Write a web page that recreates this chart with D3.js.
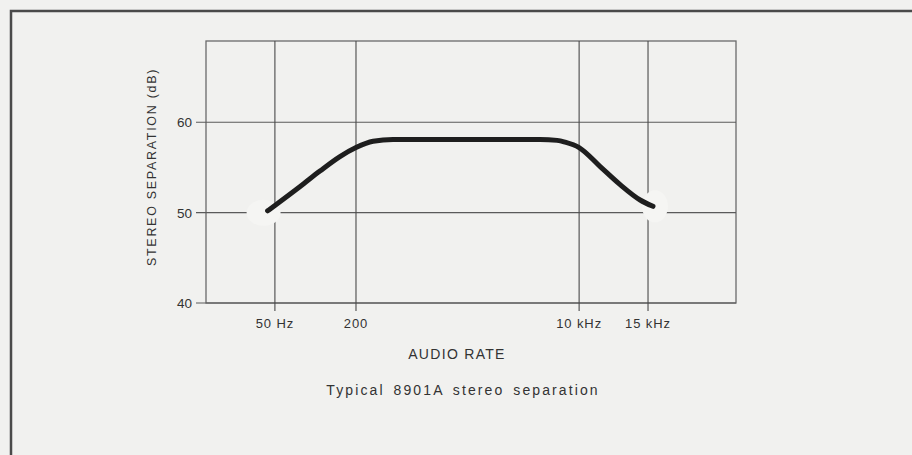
<!DOCTYPE html>
<html>
<head>
<meta charset="utf-8">
<script src="https://cdn.jsdelivr.net/npm/d3@7"></script>
<style>
  body { margin: 0; background: #f1f1ef; }
  svg { display: block; }
  text { font-family: "Liberation Sans", Arial, sans-serif; fill: #333; }
</style>
</head>
<body>
<div id="graph"></div>
<script>
// curve (Hz, dB)
var freq = [44, 50, 77, 108, 152, 200, 270, 383, 1040, 5050, 6800, 7820, 10000, 11320, 12730, 14320, 15600]
var sep  = [50.2, 50.8, 52.9, 54.6, 56.2, 57.2, 57.9, 58.1, 58.1, 58.1, 58.0, 57.8, 57.2, 55.1, 53.1, 51.4, 50.7]

// axis ticks
var xTicks = [50, 200, 10000, 15000]
var xTickLabels = ["50 Hz", "200", "10 kHz", "15 kHz"]
var yTicks = [40, 50, 60]

var W = 912, H = 455
var margin = {top: 41, right: 176, bottom: 152, left: 206},
  width = W - margin.left - margin.right,
  height = H - margin.top - margin.bottom;

var svg = d3.select("#graph")
.append("svg")
  .attr("width", W)
  .attr("height", H)

// page frame (top + left rule of the scanned page)
svg.append("path")
  .attr("d", "M912,11 H11 V455")
  .attr("fill", "none")
  .attr("stroke", "#4a4a4a")
  .attr("stroke-width", 2.5)

var g = svg.append("g")
  .attr("transform", "translate(" + margin.left + "," + margin.top + ")")

// the frequency axis on the original is not a true log axis, so piecewise
var x = d3.scaleLog()
  .domain([15, 50, 200, 10000, 15000, 30000])
  .range([0, .130, .283, .704, .834, 1].map(function(f){ return f * width }))

var y = d3.scaleLinear()
  .domain([40, 69])
  .range([height, 0])

// plot box
g.append("rect")
  .attr("width", width)
  .attr("height", height)
  .attr("fill", "none")
  .attr("stroke", "#6a6a6a")
  .attr("stroke-width", 1.3)

// horizontal grid + left ticks
g.selectAll(".hgrid")
.data(yTicks)
.enter()
.append("line")
  .attr("x1", -10)
  .attr("x2", width)
  .attr("y1", function(d){ return y(d) })
  .attr("y2", function(d){ return y(d) })
  .attr("stroke", "#5a5a5a")
  .attr("stroke-width", 1.1)

// vertical grid + bottom ticks
g.selectAll(".vgrid")
.data(xTicks)
.enter()
.append("line")
  .attr("x1", function(d){ return x(d) })
  .attr("x2", function(d){ return x(d) })
  .attr("y1", 0)
  .attr("y2", height + 8)
  .attr("stroke", "#4a4a4a")
  .attr("stroke-width", 1.1)

// y labels
g.selectAll(".ylab")
.data(yTicks)
.enter()
.append("text")
  .attr("x", -14)
  .attr("y", function(d){ return y(d) })
  .attr("dy", "0.36em")
  .attr("text-anchor", "end")
  .style("font-size", "13.5px")
  .text(function(d){ return d })

// x labels
g.selectAll(".xlab")
.data(xTicks)
.enter()
.append("text")
  .attr("x", function(d){ return x(d) })
  .attr("y", height + 25)
  .attr("text-anchor", "middle")
  .style("font-size", "13px")
  .style("letter-spacing", "0.9px")
  .text(function(d, i){ return xTickLabels[i] })

// white blots the original leaves round the curve ends
var first = 0, last = freq.length - 1
g.append("ellipse")
  .attr("cx", x(freq[first]) - 4)
  .attr("cy", y(sep[first]) + 2)
  .attr("rx", 17)
  .attr("ry", 13)
  .attr("fill", "#f5f5f3")
g.append("ellipse")
  .attr("cx", x(freq[last]) + 2)
  .attr("cy", y(sep[last]))
  .attr("rx", 13)
  .attr("ry", 16)
  .attr("fill", "#f5f5f3")

// the curve
var line = d3.line()
  .x(function(d, i){ return x(freq[i]) })
  .y(function(d, i){ return y(sep[i]) })
  .curve(d3.curveMonotoneX)

g.append("path")
  .datum(sep)
  .attr("d", line)
  .attr("fill", "none")
  .attr("stroke", "#1e1e1e")
  .attr("stroke-width", 5)
  .attr("stroke-linecap", "round")
  .attr("stroke-linejoin", "round")

// axis titles
g.append("text")
  .attr("transform", "translate(-50," + (height / 2 - 5) + ") rotate(-90)")
  .attr("text-anchor", "middle")
  .style("font-size", "12.5px")
  .style("letter-spacing", "1.7px")
  .text("STEREO SEPARATION (dB)")

svg.append("text")
  .attr("x", 457)
  .attr("y", 359)
  .attr("text-anchor", "middle")
  .style("font-size", "14px")
  .style("letter-spacing", "1.3px")
  .text("AUDIO RATE")

svg.append("text")
  .attr("x", 463)
  .attr("y", 395)
  .attr("text-anchor", "middle")
  .style("font-size", "14px")
  .style("letter-spacing", "2.1px")
  .style("word-spacing", "3px")
  .text("Typical 8901A stereo separation")
</script>
</body>
</html>
